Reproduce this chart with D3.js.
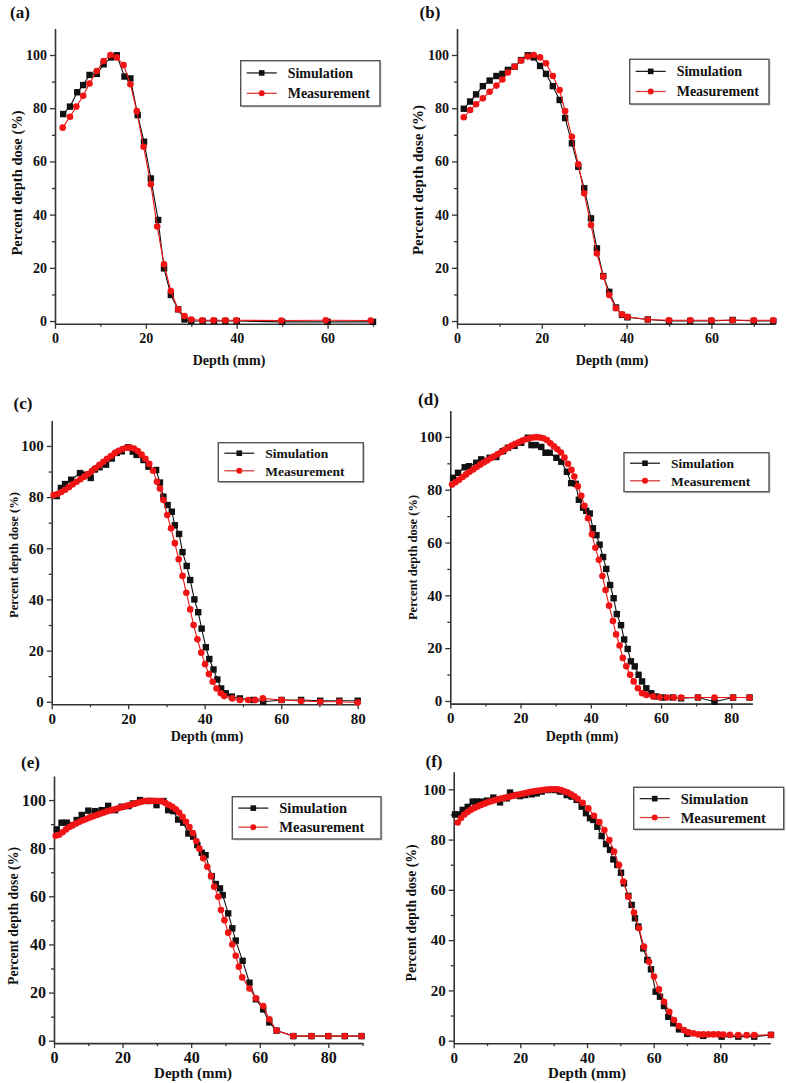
<!DOCTYPE html>
<html>
<head>
<meta charset="utf-8">
<script src="https://cdn.jsdelivr.net/npm/d3@7"></script>
<style>
  html, body { margin: 0; padding: 0; background: #fff; }
  svg { display: block; }
  text { font-family: "Liberation Serif", "Times New Roman", serif; font-weight: bold; fill: #111; }
</style>
</head>
<body>
<svg id="chart" width="786" height="1083"></svg>
<script>
// ---------------- DATA ----------------
const seriesNames = ["Simulation", "Measurement"];
const panelLabels = ["(a)", "(b)", "(c)", "(d)", "(e)", "(f)"];
const xAxisTitle = "Depth (mm)";
const yAxisTitle = "Percent depth dose (%)";
const yTickValues = [0, 20, 40, 60, 80, 100];
const yMinorTicks = [10, 30, 50, 70, 90];
const xTicksA = [0, 20, 40, 60];
const xTicksB = [0, 20, 40, 60];
const xTicksC = [0, 20, 40, 60, 80];
const xTicksD = [0, 20, 40, 60, 80];
const xTicksE = [0, 20, 40, 60, 80];
const xTicksF = [0, 20, 40, 60, 80];
const xMinorA = [10, 30, 50, 70];
const xMinorB = [10, 30, 50, 70];
const xMinorC = [10, 30, 50, 70];
const xMinorD = [10, 30, 50, 70];
const xMinorE = [10, 30, 50, 70, 90];
const xMinorF = [10, 30, 50, 70, 90];

// (a)
const aSimDepth = [1.8,3.3,4.9,6.2,7.6,9.2,10.7,12.4,13.6,15.3,16.6,18.2,19.6,21.1,22.7,24,25.5,27.1,28.5,30,32.5,35,37.5,40,50,60,70];
const aSimDose  = [77.8,80.6,86,88.7,92.5,92.9,96.5,99.1,99.9,91.9,91.2,77.4,67.4,53.6,38,19.8,9.8,4.4,0.6,0,0,0,0,0,-0.3,-0.3,-0.3];
const aMeasDepth = [1.7,3.3,4.7,6.2,7.6,9.2,10.7,12.2,13.6,15.1,16.6,18,19.5,21.1,22.5,24,25.5,27.1,28.5,30,32.4,34.9,37.5,39.9,49.8,59.6,69.5];
const aMeasDose  = [72.7,76.8,80.6,84.7,89.3,94,97.7,100,99.1,96.2,89,78.9,65.5,51.4,35.5,21.3,11.3,4.4,1.9,0.6,0.3,0.3,0.3,0.3,0.2,0.3,0.2];

// (b)
const bSimDepth = [1.6,3.1,4.5,6.1,7.7,9.3,10.7,12,13.6,15.1,16.7,18.1,19.6,21,22.6,24.2,25.5,27.1,28.6,30,31.6,33,34.5,35.9,37.5,38.9,40.2,45,50,55,60,65,70,74.6];
const bSimDose  = [79.8,82.5,85.2,88.3,90.4,92.1,92.9,94.4,95.6,98.1,99.9,99.1,95.9,92.9,88.3,83.1,76.3,66.8,58,49.9,38.6,27.3,16.9,11,5.1,2.3,1.4,0.6,0,0,0,0.4,0,0];
const bMeasDepth = [1.6,3.1,4.5,6.1,7.7,9.3,10.7,12,13.6,15.1,16.7,18.1,19.6,21,22.6,24.2,25.5,27.1,28.6,30,31.6,33,34.5,35.9,37.5,38.9,40.2,45,50,55,60,65,70,74.6];
const bMeasDose  = [76.6,79.3,81.5,83.7,86.2,88.5,90.8,93.4,95.6,97.9,99.4,100,99.1,96.9,92.1,86.8,78.9,69.3,58.9,48,36.1,25.4,16.7,9.8,4.8,2.5,1.6,0.6,0.3,0.3,0.3,0.3,0.3,0.3];

// (c)
const cSimDepth = [1.3,2.4,3.5,5.1,7.4,8.7,10.2,11.3,12.5,14.2,15.7,17,18.3,20,21.2,22.2,24,25.3,27.3,28.3,29.2,30.3,31.4,32.2,33.3,34.2,35.3,36.2,37.3,38.3,39.2,40.3,41.2,42.3,43.3,44.3,45.5,47.1,49.2,52.7,55.3,60.1,65.2,70.2,75.2,80];
const cSimDose  = [80.4,83.6,85.1,86.8,89.4,88.8,87.5,90.8,91.7,92.7,95.1,97.3,97.9,99.5,97.8,96.5,94.5,91.9,90.6,85.7,80.2,76.9,74.3,69,65.6,58.5,53.1,47.6,40,35,28.6,21.3,16.7,12.6,8.7,5.2,3.3,2,1.3,0.7,0,0.7,0.7,0.4,0.4,0.4];
const cMeasDepth = [0.5,1.5,2.5,3.5,4.5,5.5,6.5,7.5,8.5,9.5,10.5,11.5,12.5,13.5,14.5,15.5,16.5,17.5,18.5,19.5,20.5,21.5,22.5,23.5,24.5,25.5,26.5,27.5,28.3,29.2,30.2,31.2,32.2,33.2,34.2,35.2,36.2,37.1,38.1,39.1,40.1,41.1,42.1,43.1,44.2,45.1,47.2,49.2,51.4,53.2,55.2,60.1,65.2,70.2,75.2,80];
const cMeasDose  = [80.8,81.2,82,82.9,83.9,85,86,87,88,89,90.2,91.4,92.6,93.8,95,96.1,97.2,98.1,98.8,99.3,99.4,99,98,96.6,95,93,90.3,86,83.4,78.9,73,67.8,62,55.7,49.2,42.6,36.1,30,24.4,19.2,14.7,10.8,7.8,5.2,3.3,2.2,1.3,0.7,0.7,0.7,1.3,0.7,0.3,0,0,-0.3];

// (d)
const dSimDepth = [0.8,2.2,4.1,5.3,7.4,8.8,11.2,13.1,15,16.4,18.3,20.2,22.1,23.1,24.3,25.9,27.1,28.3,30.2,31.6,33.2,34.4,35.7,36.6,37.8,38.7,39.7,40.6,41.6,42.5,43.5,44.4,45.5,46.5,47.4,48.6,49.5,50.5,51.4,52.5,53.6,54.6,55.8,57.2,58.6,60.5,63.4,65.7,70.5,75.2,80.5,85.2];
const dSimDose  = [84.5,86.4,88.5,88.9,90.2,91.5,92.1,92.4,94.6,95.9,96.6,97.8,99.7,96.9,96.9,96.2,94,94,92.1,90.6,86.8,82.5,82.2,76.2,73.2,72,71,65.4,62.8,59.2,54.5,50,43.9,38.9,32.9,28.7,23.3,19.7,15,13.1,9.9,7.4,4.8,2.9,1.7,1.3,1.3,1,1.3,-0.3,1.3,1.3];
const dMeasDepth = [0.5,1.5,2.5,3.5,4.5,5.5,6.5,7.5,8.5,9.5,10.5,11.5,12.5,13.5,14.5,15.5,16.5,17.5,18.5,19.5,20.5,21.5,22.5,23.5,24.5,25.5,26.5,27.5,28.5,29.5,30.5,31.5,32.5,33.5,34.5,35.3,36.3,37.3,38.2,39.2,40.3,41.3,42.3,43.3,44.2,45.2,46.3,47.2,48.2,49.1,50.1,51.2,52.2,53.4,54.6,55.8,57.7,59.6,61.7,63.6,65.7,70.5,75.2,80.5,85.2];
const dMeasDose  = [82,82.8,83.8,84.8,85.8,86.8,87.7,88.6,89.5,90.3,91.1,91.9,92.7,93.5,94.3,95.1,95.9,96.7,97.4,98,98.6,99.1,99.5,99.8,99.9,99.8,99.5,98.8,97.6,96.4,95.3,94.1,92.2,89.8,87.5,85,81.3,77.7,73.9,69.2,63.1,58,53.5,47.3,42,36.1,30.3,25.2,21,16.3,13.1,9.9,7.4,4.8,2.9,2.3,1.7,1.4,1.3,1.3,1.3,1.3,1.3,1.3,1.3];

// (e)
const eSimDepth = [0.8,2.2,3.7,5.2,6.6,8.1,10,12,13.9,15.8,17.8,19.7,21.7,23.1,25.1,27.5,29.9,31.9,33.3,34.8,36.2,37.7,39.2,40.6,41.8,43.1,44.2,46,47.2,48.4,49.2,50.8,52,53,55,57,58.9,61,62.8,64.9,69.8,75.1,80,84.8,89.7];
const eSimDose  = [87.8,90.6,90.6,89.6,91.7,93.8,95.6,95.4,95.8,97.6,95.8,97.2,97.5,98.6,100,99.6,97.9,99.6,95.8,95.4,91.9,90.6,86.1,84.8,81.3,78.1,77.1,68.4,65.1,63.3,60.5,52.9,46.7,41.6,33.2,24.1,17.2,13,7.6,4.2,1.9,1.9,1.9,1.9,1.9];
const eMeasDepth = [0.5,1.5,2.5,3.5,4.5,5.5,6.5,7.5,8.5,9.5,10.5,11.5,12.5,13.5,14.5,15.5,16.5,17.5,18.5,19.5,20.5,21.5,22.5,23.5,24.5,25.5,26.5,27.5,28.5,29.5,30.5,31.5,32.5,33.5,34.5,35.5,36.5,37.5,38.5,39.5,40.5,41.5,42.4,43.5,44.7,45.8,46.7,47.9,48.7,49.7,50.8,52,53,53.9,54.9,57,58.9,61,62.8,64.9,69.8,75.1,80,84.8,89.7];
const eMeasDose  = [85.2,85.6,86.6,87.8,88.8,89.6,90.3,91,91.6,92.2,92.8,93.3,93.8,94.3,94.8,95.3,95.7,96.1,96.5,96.9,97.3,97.7,98.1,98.5,98.9,99.3,99.6,99.7,99.7,99.7,99.6,99.5,98.8,98,97.2,96.2,94.8,93,91,88.8,86.3,83,79.8,75.8,72.3,68.4,64,59.8,54.3,50.1,44.9,40,35.3,30.7,26.3,21.7,17.6,14.4,8.9,4.2,1.9,1.9,1.9,1.9,1.9];

// (f)
const fSimDepth = [0.4,1.4,2.7,4.2,5.7,6.9,8.1,10,11.9,13.9,15.9,16.9,18.4,19.9,21.4,23.4,24.9,26.4,28.4,30.4,31.9,33.9,35.4,36.9,38.4,39.7,40.9,41.9,43.1,44.4,45.7,46.9,47.9,49.1,50.2,51.1,52.4,53.4,54.4,55.4,56.9,58.1,59.2,60.6,61.9,63.1,64.4,65.9,67.6,70.1,74.9,80.4,85.4,90.2,95.2];
const fSimDose  = [90,90,91.8,93,95.1,95.1,95.1,95.5,96.7,94.8,96.4,98.7,97.7,97.3,97.7,98,98.4,99.1,99.7,99.7,99.1,97.7,97.1,95.8,93.1,90.5,88.5,87.8,85.1,81.4,78.2,75.9,72.1,69.9,66.8,62.6,57.6,54,48.7,45.4,36.7,32.1,28.4,19.5,17.5,13.8,9.5,6.9,4.5,2.7,1.9,1.6,1.6,1.6,2.3];
const fMeasDepth = [1.2,2.2,3.2,4.2,5.2,6.2,7.2,8.2,9.2,10.2,11.2,12.2,13.2,14.2,15.2,16.2,17.2,18.2,19.2,20.2,21.2,22.2,23.2,24.2,25.2,26.2,27.2,28.2,29.2,30.2,31.2,32.2,33.2,34.2,35.2,36.2,37.2,38.7,40.4,42.1,43.7,45.2,46.7,48.1,49.6,50.9,52.4,54.1,55.6,57.1,58.6,60.1,61.6,63.1,64.7,66.1,67.6,69.1,70.4,71.9,73.4,74.9,76.4,77.9,79.4,80.9,82.9,85.4,87.9,90.2,95.2];
const fMeasDose  = [86.8,88.6,90,91,91.9,92.6,93.2,93.8,94.3,94.8,95.2,95.6,96,96.3,96.6,96.9,97.2,97.5,97.8,98.1,98.4,98.7,99,99.2,99.4,99.6,99.8,99.9,100,100,100,99.7,99.2,98.7,98,97.2,96.2,94.6,92.4,89.5,87,83.8,79.8,75.2,69.9,63.3,57.3,51,44.7,37.4,31.4,25.5,20.4,15.5,11.5,8.2,5.8,4.2,3.3,2.9,2.5,2.5,2.5,2.5,2.5,2.4,2.3,2.2,2.2,2.2,2.3];

// ---------------- LAYOUT ----------------
const panels = [
  { label: panelLabels[0], simX: aSimDepth, simY: aSimDose, meaX: aMeasDepth, meaY: aMeasDose,
    xDomain: [0, 70], yDomain: [-1, 110], xRange: [55, 373], yRange: [323.7, 28.4],
    xTicks: xTicksA, xMinor: xMinorA,
    labelPos: [20, 12], yTitlePos: [17, 183], xTitlePos: [229, 360],
    legend: [240.7, 60.7, 139.3, 45.3], fs: { tick: 14, yt: 14.5, xt: 14, lg: 14, pl: 17 } },
  { label: panelLabels[1], simX: bSimDepth, simY: bSimDose, meaX: bMeasDepth, meaY: bMeasDose,
    xDomain: [0, 75], yDomain: [-1, 110], xRange: [457, 775], yRange: [323.7, 28.4],
    xTicks: xTicksB, xMinor: xMinorB,
    labelPos: [430, 12], yTitlePos: [418, 180], xTitlePos: [612, 360],
    legend: [629.7, 59.3, 139.3, 44.7], fs: { tick: 14, yt: 15, xt: 14, lg: 14, pl: 17 } },
  { label: panelLabels[2], simX: cSimDepth, simY: cSimDose, meaX: cMeasDepth, meaY: cMeasDose,
    xDomain: [0, 80], yDomain: [-1, 110], xRange: [51.7, 357.7], yRange: [704.3, 420.4],
    xTicks: xTicksC, xMinor: xMinorC,
    labelPos: [23, 403], yTitlePos: [13.5, 555], xTitlePos: [207, 736],
    legend: [218.3, 442.7, 145, 39], fs: { tick: 15, yt: 12.6, xt: 14, lg: 13.5, pl: 17 } },
  { label: panelLabels[3], simX: dSimDepth, simY: dSimDose, meaX: dMeasDepth, meaY: dMeasDose,
    xDomain: [0, 86], yDomain: [-1, 110], xRange: [450.3, 752.4], yRange: [703.6, 410.5],
    xTicks: xTicksD, xMinor: xMinorD,
    labelPos: [428.5, 399], yTitlePos: [413, 557.5], xTitlePos: [582, 736],
    legend: [624, 452.7, 145, 39], fs: { tick: 15, yt: 12.5, xt: 14, lg: 13.5, pl: 17 } },
  { label: panelLabels[4], simX: eSimDepth, simY: eSimDose, meaX: eMeasDepth, meaY: eMeasDose,
    xDomain: [0, 90], yDomain: [-1, 110], xRange: [54, 362.6], yRange: [1043.1, 776],
    xTicks: xTicksE, xMinor: xMinorE,
    labelPos: [30.5, 761.7], yTitlePos: [13.5, 916], xTitlePos: [193, 1072.7],
    legend: [232.3, 796.7, 148.7, 42.3], fs: { tick: 16, yt: 13.8, xt: 15, lg: 14.5, pl: 17 } },
  { label: panelLabels[5], simX: fSimDepth, simY: fSimDose, meaX: fMeasDepth, meaY: fMeasDose,
    xDomain: [0, 95], yDomain: [-1, 107], xRange: [453.7, 770.3], yRange: [1043.2, 771.7],
    xTicks: xTicksF, xMinor: xMinorF,
    labelPos: [434, 761], yTitlePos: [411, 913], xTitlePos: [587, 1073],
    legend: [633.7, 787.3, 150, 42], fs: { tick: 15, yt: 13.7, xt: 15, lg: 14.5, pl: 17 } }
];

const SIM_COLOR = "#111111";
const MEAS_COLOR = "#f01414";
const svg = d3.select("#chart");

panels.forEach(p => {
  const g = svg.append("g");
  const x = d3.scaleLinear().domain(p.xDomain).range(p.xRange);
  const y = d3.scaleLinear().domain(p.yDomain).range(p.yRange);
  const x0 = p.xRange[0], yb = p.yRange[0];

  // axes
  const yAxis = g.append("g").attr("transform", `translate(${x0},0)`)
    .call(d3.axisLeft(y).tickValues(yTickValues).tickSize(5).tickPadding(3).tickSizeOuter(0));
  g.append("g").attr("transform", `translate(${x0},0)`)
    .call(d3.axisLeft(y).tickValues(yMinorTicks).tickSize(3).tickFormat("").tickSizeOuter(0))
    .select(".domain").remove();
  const xAxis = g.append("g").attr("transform", `translate(0,${yb})`)
    .call(d3.axisBottom(x).tickValues(p.xTicks).tickSize(5).tickPadding(4).tickSizeOuter(0));
  g.append("g").attr("transform", `translate(0,${yb})`)
    .call(d3.axisBottom(x).tickValues(p.xMinor.filter(v => v <= p.xDomain[1])).tickSize(3).tickFormat("").tickSizeOuter(0))
    .select(".domain").remove();
  g.selectAll(".domain").attr("stroke", "#333").attr("stroke-width", 1.6);
  g.selectAll(".tick line").attr("stroke", "#333").attr("stroke-width", 1.3);
  g.selectAll(".tick text").attr("font-family", "Liberation Serif, serif")
    .attr("font-weight", "bold").attr("font-size", p.fs.tick).attr("fill", "#111");

  // series
  const simData = p.simX.map((d, i) => [d, p.simY[i]]);
  const meaData = p.meaX.map((d, i) => [d, p.meaY[i]]);
  const line = d3.line().x(d => x(d[0])).y(d => y(d[1]));

  g.append("path").datum(simData).attr("d", line)
    .attr("fill", "none").attr("stroke", SIM_COLOR).attr("stroke-width", 1.1);
  g.selectAll(".sq").data(simData).join("rect")
    .attr("x", d => x(d[0]) - 3.2).attr("y", d => y(d[1]) - 3.2)
    .attr("width", 6.4).attr("height", 6.4).attr("fill", SIM_COLOR);

  g.append("path").datum(meaData).attr("d", line)
    .attr("fill", "none").attr("stroke", MEAS_COLOR).attr("stroke-width", 1.1);
  g.selectAll(".ci").data(meaData).join("circle")
    .attr("cx", d => x(d[0])).attr("cy", d => y(d[1])).attr("r", 3.3)
    .attr("fill", MEAS_COLOR);

  // legend
  const [lx, ly, lw, lh] = p.legend;
  const lg = g.append("g");
  lg.append("rect").attr("x", lx + 1.5).attr("y", ly + 1.5).attr("width", lw).attr("height", lh)
    .attr("fill", "#ccc");
  lg.append("rect").attr("x", lx).attr("y", ly).attr("width", lw).attr("height", lh)
    .attr("fill", "#fff").attr("stroke", "#555").attr("stroke-width", 1.4);
  const rows = [ly + lh * 0.27, ly + lh * 0.72];
  seriesNames.forEach((name, i) => {
    const ry = rows[i];
    const col = i === 0 ? SIM_COLOR : MEAS_COLOR;
    lg.append("line").attr("x1", lx + 6).attr("x2", lx + 36).attr("y1", ry).attr("y2", ry)
      .attr("stroke", i === 0 ? "#222" : "#d84040").attr("stroke-width", 1.3);
    if (i === 0) {
      lg.append("rect").attr("x", lx + 21 - 2.8).attr("y", ry - 2.8).attr("width", 5.6).attr("height", 5.6).attr("fill", col);
    } else {
      lg.append("circle").attr("cx", lx + 21).attr("cy", ry).attr("r", 3).attr("fill", col);
    }
    lg.append("text").attr("x", lx + 47).attr("y", ry).attr("dy", "0.35em")
      .attr("font-size", p.fs.lg).text(name);
  });

  // titles
  g.append("text").attr("x", p.labelPos[0]).attr("y", p.labelPos[1]).attr("dy", "0.35em")
    .attr("text-anchor", "middle").attr("font-size", p.fs.pl).text(p.label);
  g.append("text").attr("transform", `translate(${p.yTitlePos[0]},${p.yTitlePos[1]}) rotate(-90)`)
    .attr("dy", "0.35em").attr("text-anchor", "middle").attr("font-size", p.fs.yt).text(yAxisTitle);
  g.append("text").attr("x", p.xTitlePos[0]).attr("y", p.xTitlePos[1]).attr("dy", "0.35em")
    .attr("text-anchor", "middle").attr("font-size", p.fs.xt).text(xAxisTitle);
});
</script>
</body>
</html>
